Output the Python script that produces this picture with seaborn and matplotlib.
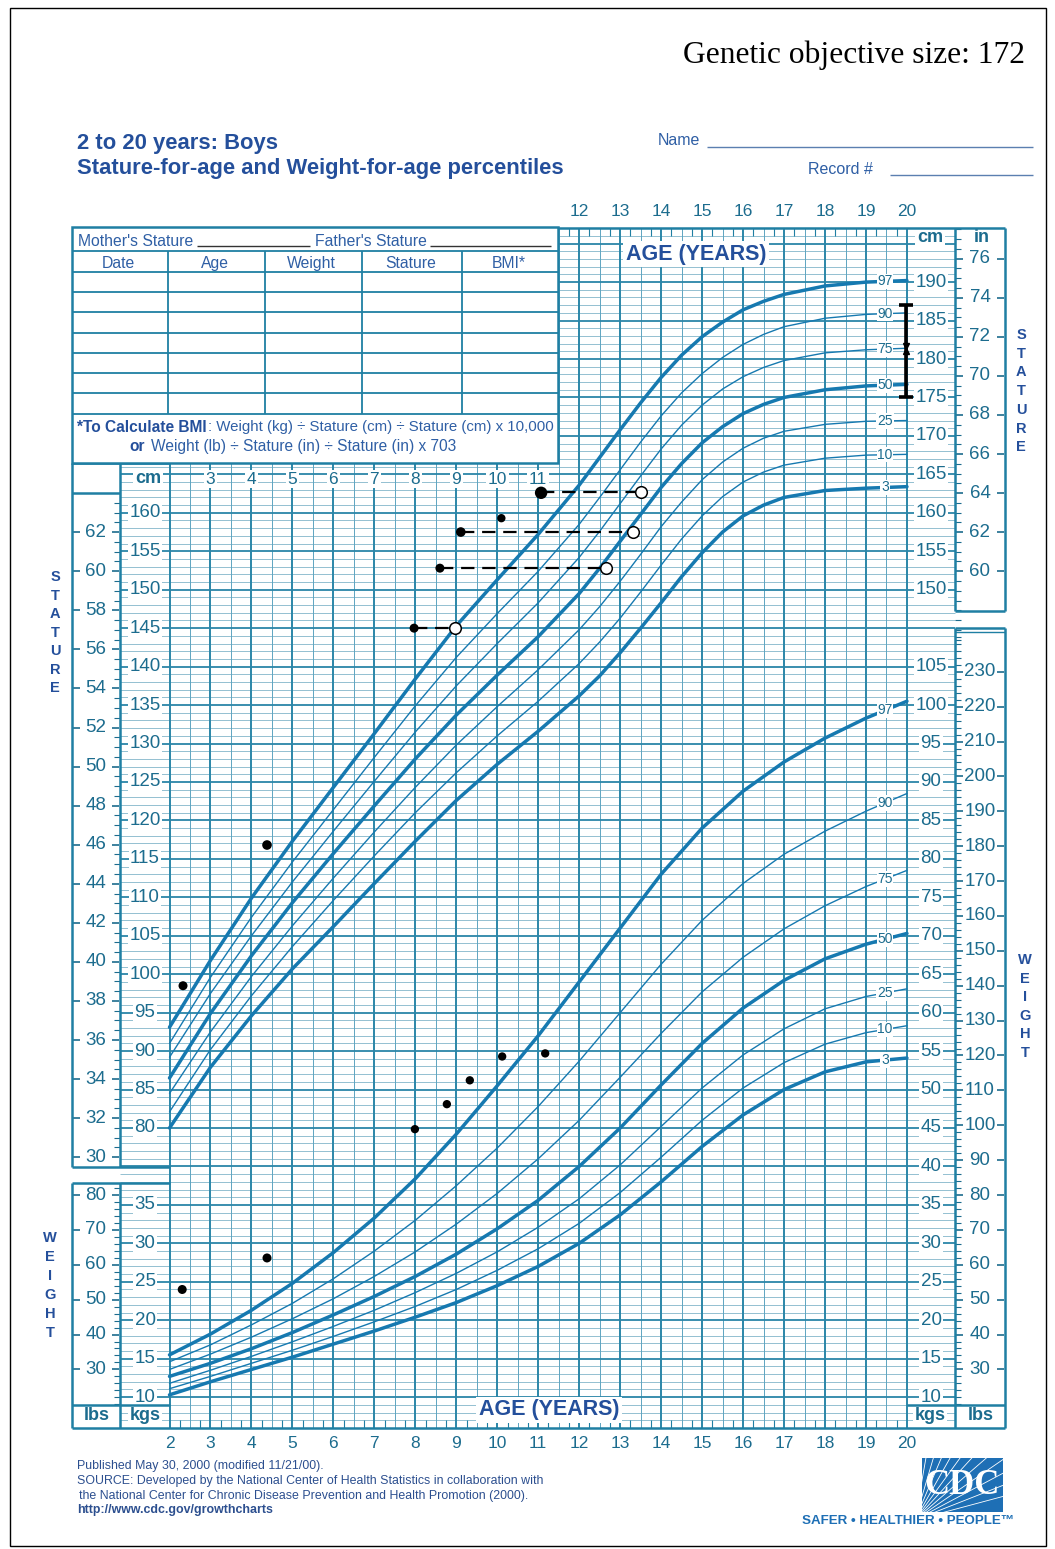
import matplotlib
matplotlib.use("agg")
import matplotlib.pyplot as plt
from matplotlib.patches import Rectangle
import numpy as np
import seaborn as sns

# ---------------- data ----------------
stature_ages = [2, 3, 4, 5, 6, 7, 8, 9, 10, 11, 12, 12.5, 13, 13.5, 14, 14.5, 15, 15.5, 16, 16.5, 17, 18, 19, 20]
stature_p97 = [93.1, 101.8, 109.9, 117.3, 124.3, 131.3, 138.4, 145.3, 151.3, 157.2, 163.6, 167.2, 170.8, 174.3, 177.6, 180.5, 182.9, 184.8, 186.4, 187.5, 188.4, 189.5, 190.0, 190.2]
stature_p90 = [91.0, 99.6, 107.4, 114.6, 121.4, 128.2, 134.9, 141.2, 146.9, 152.4, 158.5, 162.0, 165.6, 169.2, 172.6, 175.6, 178.1, 180.2, 181.9, 183.2, 184.2, 185.3, 185.8, 186.0]
stature_p75 = [89.2, 97.5, 105.0, 112.0, 118.6, 125.1, 131.5, 137.5, 143.0, 148.3, 154.2, 157.6, 161.2, 164.8, 168.3, 171.4, 174.0, 176.1, 177.7, 178.9, 179.8, 180.8, 181.2, 181.4]
stature_p50 = [86.5, 94.9, 102.4, 109.3, 115.7, 121.9, 128.0, 133.7, 138.9, 143.9, 149.5, 152.8, 156.3, 159.8, 163.3, 166.4, 169.1, 171.2, 172.9, 174.1, 175.0, 176.0, 176.5, 176.7]
stature_p25 = [84.5, 92.5, 99.7, 106.3, 112.5, 118.5, 124.3, 129.8, 134.8, 139.6, 144.8, 147.8, 151.1, 154.6, 158.2, 161.4, 164.3, 166.6, 168.4, 169.7, 170.6, 171.5, 171.9, 172.0]
stature_p10 = [82.1, 90.2, 97.2, 103.6, 109.6, 115.4, 121.0, 126.2, 131.0, 135.5, 140.4, 143.2, 146.3, 149.7, 153.2, 156.6, 159.6, 162.1, 164.0, 165.3, 166.2, 167.1, 167.5, 167.6]
stature_p3 = [80.0, 87.9, 94.6, 100.7, 106.2, 111.8, 117.3, 122.6, 127.3, 131.6, 136.2, 138.8, 141.8, 145.0, 148.3, 151.7, 154.8, 157.5, 159.6, 161.0, 162.0, 162.9, 163.2, 163.4]

weight_ages = [2, 3, 4, 5, 6, 7, 8, 9, 10, 11, 12, 13, 14, 15, 16, 17, 18, 19, 20]
weight_p97 = [15.5, 18.2, 21.3, 24.8, 28.8, 33.3, 38.4, 44.2, 50.5, 57.0, 64.0, 71.0, 78.0, 84.0, 88.8, 92.6, 95.7, 98.3, 100.5]
weight_p90 = [14.6, 16.8, 19.4, 22.2, 25.4, 29.0, 33.0, 37.5, 42.4, 47.8, 53.7, 60.0, 66.3, 72.0, 76.8, 80.6, 83.6, 86.2, 88.5]
weight_p75 = [13.6, 15.6, 17.8, 20.2, 22.8, 25.7, 28.9, 32.5, 36.5, 41.0, 46.0, 51.6, 57.3, 62.7, 67.2, 70.9, 73.9, 76.4, 78.5]
weight_p50 = [12.7, 14.4, 16.3, 18.4, 20.7, 23.1, 25.7, 28.6, 31.9, 35.6, 40.0, 45.0, 50.6, 56.0, 60.6, 64.2, 67.0, 68.9, 70.3]
weight_p25 = [11.8, 13.5, 15.3, 17.2, 19.2, 21.3, 23.6, 26.1, 28.9, 32.1, 35.8, 40.2, 45.2, 50.2, 54.5, 57.9, 60.5, 62.1, 63.1]
weight_p10 = [11.1, 12.7, 14.4, 16.1, 17.9, 19.8, 21.8, 24.0, 26.5, 29.3, 32.6, 36.6, 41.2, 46.0, 50.2, 53.5, 55.9, 57.4, 58.3]
weight_p3 = [10.3, 12.0, 13.6, 15.2, 16.9, 18.6, 20.4, 22.3, 24.5, 27.0, 30.0, 33.7, 38.0, 42.6, 46.7, 50.0, 52.3, 53.6, 54.1]

percentiles = ["97", "90", "75", "50", "25", "10", "3"]
stature = dict(zip(percentiles, [stature_p97, stature_p90, stature_p75, stature_p50, stature_p25, stature_p10, stature_p3]))
weight = dict(zip(percentiles, [weight_p97, weight_p90, weight_p75, weight_p50, weight_p25, weight_p10, weight_p3]))

# measurements of the child
stature_pt_age = [2.33, 4.38, 7.97, 8.60, 9.11, 10.10, 11.07]
stature_pt_cm = [98.5, 116.8, 145.0, 152.8, 157.5, 159.3, 162.6]
proj_from_age = [7.97, 8.60, 9.11, 11.07]
proj_to_age = [8.97, 12.65, 13.31, 13.51]
proj_cm = [145.0, 152.8, 157.5, 162.7]

weight_pt_age = [2.31, 4.38, 7.99, 8.77, 9.33, 10.12, 11.17]
weight_pt_kg = [24.0, 28.1, 44.85, 48.1, 51.2, 54.3, 54.7]

target_age = 19.98
target_low, target_mid, target_high = 175.1, 181.4, 187.0

# axis scales
cm_ticks = list(range(80, 161, 5))
cm_ticks_right = list(range(150, 191, 5))
in_ticks_left = list(range(30, 63, 2))
in_ticks_right = list(range(60, 77, 2))
kg_ticks_left = list(range(10, 36, 5))
kg_ticks_right = list(range(10, 106, 5))
lb_ticks_left = list(range(30, 81, 10))
lb_ticks_right = list(range(30, 231, 10))
top_age_labels = list(range(12, 21))
row_age_labels = list(range(3, 12))
bottom_age_labels = list(range(2, 21))

# ---------------- style ----------------
sns.set_theme(style="white")
plt.rcParams["font.family"] = ["Liberation Sans", "DejaVu Sans"]

CURVE = "#1679b0"
GRID_MAJ = "#2b86a8"
GRID_MIN = "#82b6ca"
GRID_HALF = "#5ea5c1"
FRAME = "#1f7fa3"
TEAL = "#1c6c8e"
NAVY = "#244f9b"
TXT = "#2f5fa5"

W, H = 1055, 1549
PX_YEAR, X_AGE2 = 40.97, 169.5
PX_CM, Y_CM80 = 7.69, 1128.0
KG_SHIFT = 35.0
INCH, POUND = 2.54, 0.45359


def ax_x(px):
    return 2 + (px - X_AGE2) / PX_YEAR


def ax_y(py):
    return 80 + (Y_CM80 - py) / PX_CM


fig = plt.figure(figsize=(W / 100, H / 100), dpi=100)
ax = fig.add_axes([0, 0, 1, 1])
ax.axis("off")
axw = ax.twinx()
axw.axis("off")
page = fig.add_axes([0, 0, 1, 1], zorder=3)
page.set_xlim(0, W)
page.set_ylim(H, 0)
page.axis("off")

# ---------------- grid ----------------
TOP, BOT = 228, 1428
cms = np.arange(41, 198)
ax.hlines([c for c in cms if c % 5], ax_x(120), ax_x(955), color=GRID_MIN, lw=0.6, zorder=1)
ax.hlines([c for c in cms if c % 5 == 0], ax_x(120), ax_x(955), color=GRID_MAJ, lw=1.3, zorder=1.1)
ax.vlines(np.arange(2.5, 20, 1.0), ax_y(BOT), ax_y(TOP), color=GRID_HALF, lw=0.7, zorder=1)
ax.vlines(np.arange(2, 21, 1.0), ax_y(BOT), ax_y(TOP), color=GRID_MAJ, lw=1.4, zorder=1.1)
quarters = np.arange(2.25, 20, 0.5)
ax.vlines(quarters, ax_y(236), ax_y(TOP), color=FRAME, lw=0.8, zorder=1.2)
ax.vlines(quarters, ax_y(BOT), ax_y(BOT - 8), color=FRAME, lw=0.8, zorder=1.2)

# ---------------- percentile curves ----------------
for p in percentiles:
    thick = p in ("97", "50", "3")
    sns.lineplot(x=stature_ages, y=stature[p], ax=ax, color=CURVE, lw=2.5 if thick else 1.0, zorder=3)
    sns.lineplot(x=weight_ages, y=weight[p], ax=axw, color=CURVE, lw=2.5 if thick else 1.0, zorder=3)
    ax.text(ax_x(885), np.interp(19.46, stature_ages, stature[p]), p, ha="center", va="center",
            fontsize=10, color=TEAL, zorder=4,
            bbox=dict(boxstyle="square,pad=0.05", fc="white", ec="none"))
    axw.text(ax_x(885), np.interp(19.46, weight_ages, weight[p]), p, ha="center", va="center",
             fontsize=10, color=TEAL, zorder=4,
             bbox=dict(boxstyle="square,pad=0.05", fc="white", ec="none"))

# ---------------- child's measurements ----------------
ax.hlines(proj_cm, proj_from_age, proj_to_age, colors="black", linestyles=(0, (6, 3.5)), lw=1.6, zorder=5)
sns.scatterplot(x=stature_pt_age, y=stature_pt_cm, ax=ax, color="black", s=[42, 48, 42, 42, 48, 36, 80],
                edgecolor="black", linewidth=0, zorder=6)
sns.scatterplot(x=proj_to_age, y=proj_cm, ax=ax, color="white", s=70, edgecolor="black", linewidth=1.1, zorder=6)
sns.scatterplot(x=weight_pt_age, y=weight_pt_kg, ax=axw, color="black", s=[42, 42, 36, 36, 36, 36, 36],
                edgecolor="black", linewidth=0, zorder=6)

ax.vlines(target_age, target_low, target_high, colors="black", lw=2.6, zorder=6)
ax.hlines([target_low, target_high], target_age - 0.17, target_age + 0.17, colors="black", lw=2.6, zorder=6)
ax.plot([target_age], [target_mid + 0.35], marker="v", ms=4, color="black", zorder=6)
ax.plot([target_age], [target_mid - 0.35], marker="^", ms=4, color="black", zorder=6)

# ---------------- scales in the side columns ----------------
lab_box = dict(boxstyle="square,pad=0.08", fc="white", ec="none")


def cm_column(target, ticks, px):
    for v in ticks:
        target.text(ax_x(px), v, str(v), ha="center", va="center", fontsize=13.5, color=TEAL,
                    zorder=4, bbox=lab_box)


cm_column(ax, cm_ticks, 145)
cm_column(ax, cm_ticks_right, 931)
cm_column(axw, kg_ticks_left, 145)
cm_column(axw, kg_ticks_right, 931)


def unit_column(target, ticks, factor, px, x0, x1, tick_side, minor_vals):
    ys = [v * factor for v in ticks]
    for v, y in zip(ticks, ys):
        target.text(ax_x(px), y, str(v), ha="center", va="center", fontsize=13.5, color=TEAL, zorder=4)
    target.hlines(ys, ax_x(x0 + 1), ax_x(x0 + 8), color=TEAL, lw=1.2, zorder=4)
    target.hlines(ys, ax_x(x1 - 8), ax_x(x1 - 1), color=TEAL, lw=1.2, zorder=4)
    minor = [m * factor for m in minor_vals if m not in ticks]
    if tick_side == "right":
        target.hlines(minor, ax_x(x1 - 6), ax_x(x1), color=TEAL, lw=0.8, zorder=4)
    else:
        target.hlines(minor, ax_x(x0), ax_x(x0 + 6), color=TEAL, lw=0.8, zorder=4)


unit_column(ax, in_ticks_left, INCH, 96, 72, 120, "right", np.arange(30, 63.6, 0.5))
unit_column(ax, in_ticks_right, INCH, 980, 955, 1005, "left", np.arange(56.5, 77.6, 0.5))
unit_column(axw, lb_ticks_left, POUND, 96, 72, 120, "right", np.arange(20, 83, 2))
unit_column(axw, lb_ticks_right, POUND, 980, 955, 1005, "left", np.arange(20, 241, 2))

# age labels
for a in top_age_labels:
    ax.text(a, ax_y(212), str(a), ha="center", va="center", fontsize=12.5, color=TEAL)
for a in bottom_age_labels:
    ax.text(a, ax_y(1444), str(a), ha="center", va="center", fontsize=12.5, color=TEAL)
for a in row_age_labels:
    ax.text(a, ax_y(479), str(a), ha="center", va="center", fontsize=12.5, color=TEAL, zorder=4,
            bbox=dict(boxstyle="square,pad=0.1", fc="white", ec="none"))

bold_unit = dict(ha="center", va="center", fontsize=13, fontweight="bold", color=TEAL, zorder=4)
ax.text(ax_x(148), ax_y(478), "cm", bbox=lab_box, **bold_unit)
ax.text(ax_x(930), ax_y(238), "cm", bbox=lab_box, **bold_unit)
ax.text(ax_x(982), ax_y(237), "in", **bold_unit)
ax.text(ax_x(97), ax_y(1416), "lbs", **bold_unit)
ax.text(ax_x(145), ax_y(1416), "kgs", bbox=lab_box, **bold_unit)
ax.text(ax_x(930), ax_y(1416), "kgs", bbox=lab_box, **bold_unit)
ax.text(ax_x(981), ax_y(1416), "lbs", **bold_unit)

age_title = dict(ha="center", va="center", fontsize=15.5, fontweight="bold", color=NAVY, zorder=4,
                 bbox=dict(boxstyle="square,pad=0.12", fc="white", ec="none"))
ax.text(ax_x(696), ax_y(254), "AGE (YEARS)", **age_title)
ax.text(ax_x(549), ax_y(1410), "AGE (YEARS)", **age_title)

# ---------------- frame / boxes (page pixel coordinates) ----------------


def seg(x0, y0, x1, y1, lw=1.8, color=FRAME):
    page.plot([x0, x1], [y0, y1], color=color, lw=lw, solid_capstyle="butt")


seg(72, TOP, 1005, TOP)
seg(72, BOT, 1005, BOT)
for x in (72, 120):
    seg(x, 463, x, 1167)
    seg(x, 1183, x, BOT)
for y in (463, 1167, 1183, 1405):
    seg(72, y, 169.5, y)
seg(72, 493, 120, 493)
for x in (955, 1005):
    seg(x, TOP, x, 611)
    seg(x, 628, x, BOT)
seg(955, 611, 1005, 611)
seg(955, 628, 1005, 628)
seg(955, 632, 1005, 632, lw=1.0)
seg(907, 1405, 1005, 1405)

# record table
page.add_patch(Rectangle((72, 227), 486, 236, fc="white", ec=FRAME, lw=1.8, zorder=2))
for y in (251, 272, 292, 312, 333, 353, 373, 393, 414):
    seg(72, y, 558, y, lw=1.3)
for x in (168, 265, 362, 462):
    seg(x, 251, x, 414, lw=1.3)
tfont = dict(fontsize=11.3, color=TXT, va="center")
page.text(78, 241, "Mother's Stature", ha="left", **tfont)
seg(197, 246, 310, 246, lw=1.0, color="#333333")
page.text(315, 241, "Father's Stature", ha="left", **tfont)
seg(430, 246, 551, 246, lw=1.0, color="#333333")
for x, t in zip((118, 215, 311, 411, 509), ("Date", "Age", "Weight", "Stature", "BMI*")):
    page.text(x, 263, t, ha="center", **tfont)
page.text(77, 427, "*To Calculate BMI", ha="left", fontsize=11.2, fontweight="bold", color=NAVY, va="center")
page.text(208, 427, ": Weight (kg) ÷ Stature (cm) ÷ Stature (cm) x 10,000", ha="left",
          fontsize=10.8, color=TXT, va="center")
page.text(129, 446, "or", ha="left", fontsize=11.2, fontweight="bold", color=NAVY, va="center")
page.text(151, 446, "Weight (lb) ÷ Stature (in) ÷ Stature (in) x 703", ha="left",
          fontsize=11.2, color=TXT, va="center")

# side words
for i, ch in enumerate("STATURE"):
    page.text(55, 577 + i * 18.5, ch, ha="center", va="center", fontsize=10.5, fontweight="bold", color=NAVY)
    page.text(1021, 335 + i * 18.7, ch, ha="center", va="center", fontsize=10.5, fontweight="bold", color=NAVY)
for i, ch in enumerate("WEIGHT"):
    page.text(50, 1238 + i * 19, ch, ha="center", va="center", fontsize=10.5, fontweight="bold", color=NAVY)
    page.text(1025, 960 + i * 18.6, ch, ha="center", va="center", fontsize=10.5, fontweight="bold", color=NAVY)

# headings
page.text(77, 143, "2 to 20 years: Boys", ha="left", va="center", fontsize=15.8, fontweight="bold", color=NAVY)
page.text(77, 168, "Stature-for-age and Weight-for-age percentiles", ha="left", va="center",
          fontsize=15.8, fontweight="bold", color=NAVY)
page.text(658, 140, "Name", ha="left", va="center", fontsize=11.5, color=TXT)
seg(707, 147, 1033, 147, lw=1.0, color="#5b7fb0")
page.text(808, 169, "Record #", ha="left", va="center", fontsize=11.5, color=TXT)
seg(890, 175, 1033, 175, lw=1.0, color="#5b7fb0")
page.text(683, 55, "Genetic objective size: 172", ha="left", va="center", fontsize=22.7,
          family="Liberation Serif", color="black")

# footer
foot = dict(ha="left", va="center", fontsize=8.9, color="#2c4f8f")
page.text(77, 1466, "Published May 30, 2000 (modified 11/21/00).", **foot)
page.text(77, 1481, "SOURCE: Developed by the National Center of Health Statistics in collaboration with", **foot)
page.text(79, 1496, "the National Center for Chronic Disease Prevention and Health Promotion (2000).", **foot)
page.text(77, 1510, "http://www.cdc.gov/growthcharts", fontweight="bold", **foot)

# CDC logo
logo = Rectangle((922, 1458), 81, 54, fc="#1e6fb5", ec="none", zorder=2)
page.add_patch(logo)
for ang in np.linspace(15, 80, 11):
    t = np.radians(ang)
    ln, = page.plot([915, 915 + 140 * np.cos(t)], [1520, 1520 - 140 * np.sin(t)], color="white", lw=0.6, zorder=2.5)
    ln.set_clip_path(logo)
page.text(962, 1485, "CDC", ha="center", va="center", fontsize=25, fontweight="bold",
          family="Liberation Serif", color="white", zorder=3)
page.text(908, 1521, "SAFER \u2022 HEALTHIER \u2022 PEOPLE\u2122", ha="center", va="center", fontsize=9.6,
          fontweight="bold", color="#1e6fb5")

# outer border
page.add_patch(Rectangle((10, 8), 1036, 1538, fc="none", ec="black", lw=1.0))

ax.set_xlim(ax_x(0), ax_x(W))
ax.set_ylim(ax_y(H), ax_y(0))
axw.set_ylim(ax_y(H) - KG_SHIFT, ax_y(0) - KG_SHIFT)

plt.savefig("out.png", dpi=100)
